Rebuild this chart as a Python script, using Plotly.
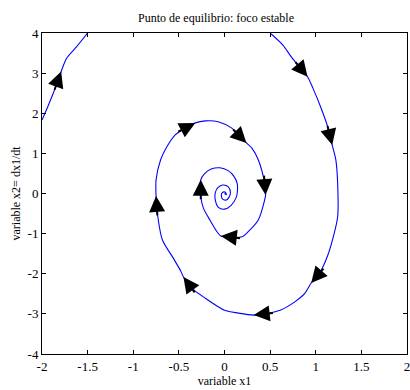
import math
import plotly.graph_objects as go

# Phase-plane trajectory of a stable focus (x1, x2 = dx1/dt)
x1 = [-2.00, -1.93, -1.86, -1.79, -1.73, -1.62, -1.50, None,
      0.50, 0.64, 0.73, 0.82, 0.91, 0.97, 1.06, 1.13, 1.18, 1.22,
      1.24, 1.24, 1.19, 1.13, 1.04, 0.95, 0.88, 0.77, 0.61, 0.44,
      0.32, 0.15, 0.00, -0.21, -0.36, -0.45, -0.48, -0.57, -0.68, -0.74,
      -0.75, -0.75, -0.70, -0.63, -0.54, -0.43, -0.32, -0.21, -0.07, 0.08,
      0.24, 0.30, 0.37, 0.44, 0.45, 0.44, 0.37, 0.26, 0.19, 0.08,
      -0.04, -0.08, -0.16, -0.23, -0.26, -0.26, -0.22, -0.145, -0.05, 0.04,
      0.10, 0.14, 0.14, 0.13, 0.07, 0.00, -0.07, -0.10, -0.10, -0.07,
      -0.02, 0.04, 0.065, 0.05, 0.02, -0.02, -0.035, -0.02, 0.01, 0.02, 0.00]
x2 = [1.83, 2.20, 2.60, 3.04, 3.37, 3.66, 4.00, None,
      4.00, 3.70, 3.41, 3.16, 2.91, 2.62, 2.12, 1.67, 1.21, 0.84,
      0.25, -0.58, -1.10, -1.55, -1.99, -2.23, -2.49, -2.70, -2.91, -3.00,
      -3.03, -2.98, -2.91, -2.61, -2.36, -2.08, -1.93, -1.58, -1.16, -0.41,
      -0.06, 0.34, 0.84, 1.17, 1.46, 1.63, 1.76, 1.81, 1.79, 1.63,
      1.26, 1.13, 0.84, 0.25, -0.04, -0.16, -0.66, -0.95, -1.08, -1.09,
      -1.06, -0.96, -0.66, -0.37, -0.08, 0.34, 0.49, 0.61, 0.64, 0.57,
      0.44, 0.24, 0.03, -0.09, -0.30, -0.39, -0.34, -0.18, 0.03, 0.15,
      0.21, 0.17, 0.03, -0.09, -0.16, -0.14, -0.05, 0.03, 0.03, -0.03, 0.00]

# trajectory vertices that carry a direction arrow
arrow_at = [3, 12, 16, 23, 28, 33, 38, 44, 48, 52, 58, 63]

x_ticks = [-2, -1.5, -1, -0.5, 0, 0.5, 1, 1.5, 2]
x_ticktext = ["-2", "-1.5", "-1", "-0.5", "0", "0.5", "1", "1.5", "2"]
y_ticks = [-4, -3, -2, -1, 0, 1, 2, 3, 4]
y_ticktext = ["-4", "-3", "-2", "-1", "0", "1", "2", "3", "4"]

W, H = 410, 390
ML, MR, MT, MB = 42, 0, 33, 36
XR, YR = (-2, 2), (-4, 4)
sx = (W - ML - MR) / (XR[1] - XR[0])
sy = (H - MT - MB) / (YR[1] - YR[0])

FONT = "Liberation Serif, Times New Roman, serif"

fig = go.Figure()
fig.add_trace(go.Scatter(
    x=x1, y=x2, mode="lines",
    line=dict(color="#0000ff", width=1.1, shape="spline", smoothing=0.8),
    connectgaps=False, hoverinfo="skip", showlegend=False,
))

# arrowheads: tip on the trajectory, shaft pointing back along it
shaft_px = 21
for i in arrow_at:
    dxp = (x1[i] - x1[i - 1]) * sx
    dyp = (x2[i] - x2[i - 1]) * sy
    n = math.hypot(dxp, dyp)
    tail_x = x1[i] - shaft_px * dxp / n / sx
    tail_y = x2[i] - shaft_px * dyp / n / sy
    fig.add_annotation(
        x=x1[i], y=x2[i], ax=tail_x, ay=tail_y,
        xref="x", yref="y", axref="x", ayref="y",
        text="", showarrow=True, arrowhead=2, arrowsize=1.6,
        arrowwidth=2, arrowcolor="black", standoff=0, startstandoff=0,
    )

axis_common = dict(
    showgrid=False, zeroline=False, showline=True, linecolor="black",
    linewidth=1, mirror="ticks", ticks="inside", ticklen=4,
    tickcolor="black", tickwidth=1, ticklabeloverflow="allow",
    tickfont=dict(family=FONT, size=13, color="black"),
)

fig.update_layout(
    width=W, height=H,
    margin=dict(l=ML, r=MR, t=MT, b=MB, pad=0),
    paper_bgcolor="white", plot_bgcolor="white",
    font=dict(family=FONT, size=12, color="black"),
    title=dict(text="Punto de equilibrio: foco estable",
               font=dict(family=FONT, size=12, color="black"),
               x=216 / W, xref="container", xanchor="center",
               y=1 - 18 / H, yref="container", yanchor="middle"),
    xaxis=dict(range=list(XR), tickvals=x_ticks, ticktext=x_ticktext,
               title=dict(text="variable x1", standoff=2,
                          font=dict(family=FONT, size=12, color="black")),
               **axis_common),
    yaxis=dict(range=list(YR), tickvals=y_ticks, ticktext=y_ticktext,
               title=dict(text="variable x2= dx1/dt", standoff=4,
                          font=dict(family=FONT, size=12, color="black")),
               **axis_common),
)

fig.write_html("out.html")
